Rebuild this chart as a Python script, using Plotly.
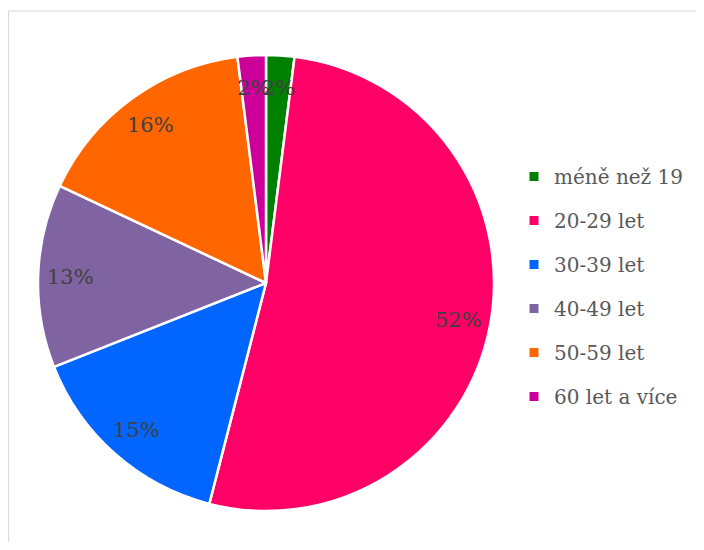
import math
import plotly.graph_objects as go

labels = ["méně než 19", "20-29 let", "30-39 let", "40-49 let", "50-59 let", "60 let a více"]
values = [2, 52, 15, 13, 16, 2]
colors = ["#008000", "#FF0066", "#0066FF", "#8064A2", "#FF6600", "#CC0099"]

# page body has an 8px margin, so the figure is 16px smaller than the window
W, H = 688, 534
cxp, cyp, rad = 258, 275, 228   # pie centre / radius in figure pixels

dom_x = [(cxp - rad) / W, (cxp + rad) / W]
dom_y = [1 - (cyp + rad) / H, 1 - (cyp - rad) / H]

fig = go.Figure()

fig.add_trace(go.Pie(
    labels=labels,
    values=values,
    marker=dict(colors=colors, line=dict(color="white", width=2.5)),
    sort=False,
    direction="clockwise",
    rotation=0,
    textinfo="none",
    hoverinfo="label+percent",
    showlegend=False,
    domain=dict(x=dom_x, y=dom_y),
))

# legend proxies so the entries can be spaced like the original
for i, (lab, col) in enumerate(zip(labels, colors)):
    fig.add_trace(go.Scatter(
        x=[None], y=[None], mode="markers", name=lab,
        legendgroup="g%d" % i,
        marker=dict(symbol="square", size=9, color=col),
    ))

# percentage labels placed along each slice's mid angle
cx = (dom_x[0] + dom_x[1]) / 2
cy = (dom_y[0] + dom_y[1]) / 2
r_px = 225 * 0.87
total = sum(values)
cum = 0
for v in values:
    mid = (cum + v / 2) / total * 2 * math.pi
    cum += v
    fig.add_annotation(
        x=cx + r_px * math.sin(mid) / W,
        y=cy + r_px * math.cos(mid) / H,
        xref="paper", yref="paper", showarrow=False,
        xanchor="center", yanchor="middle",
        text="%d%%" % round(v / total * 100),
        font=dict(family="DejaVu Serif", size=21, color="#404040"),
    )

# chart-area border (only left and top edges are inside the window)
fig.add_shape(type="line", xref="paper", yref="paper",
              x0=0.5 / W, x1=1, y0=1 - 3 / H, y1=1 - 3 / H,
              line=dict(color="#D9D9D9", width=1.2), layer="below")
fig.add_shape(type="line", xref="paper", yref="paper",
              x0=0.5 / W, x1=0.5 / W, y0=0, y1=1 - 3 / H,
              line=dict(color="#D9D9D9", width=1.2), layer="below")

fig.update_layout(
    width=W, height=H,
    margin=dict(l=0, r=0, t=0, b=0),
    paper_bgcolor="white", plot_bgcolor="white",
    xaxis=dict(visible=False), yaxis=dict(visible=False),
    legend=dict(
        x=506 / W, y=1 - 149 / H, xanchor="left", yanchor="top",
        font=dict(family="DejaVu Serif", size=20, color="#595959"),
        tracegroupgap=15, itemwidth=30,
    ),
)

fig.write_html("out.html")
